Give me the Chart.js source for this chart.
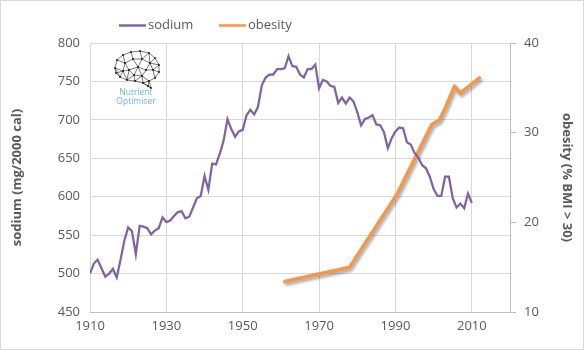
<!DOCTYPE html>
<html>
<head>
<meta charset="utf-8">
<title>sodium and obesity</title>
<script src="https://cdn.jsdelivr.net/npm/chart.js@4.4.1/dist/chart.umd.min.js"></script>
<style>
  html, body { margin: 0; padding: 0; background: #fff; }
  canvas { display: block; }
</style>
</head>
<body>
<canvas id="chart" width="584" height="350"></canvas>
<script>
// sodium intake per year, mg per 2000 cal
const sodiumYears = [
  1910, 1911, 1912, 1913, 1914, 1915, 1916, 1917, 1918, 1919,
  1920, 1921, 1922, 1923, 1924, 1925, 1926, 1927, 1928, 1929,
  1930, 1931, 1932, 1933, 1934, 1935, 1936, 1937, 1938, 1939,
  1940, 1941, 1942, 1943, 1944, 1945, 1946, 1947, 1948, 1949,
  1950, 1951, 1952, 1953, 1954, 1955, 1956, 1957, 1958, 1959,
  1960, 1961, 1962, 1963, 1964, 1965, 1966, 1967, 1968, 1969,
  1970, 1971, 1972, 1973, 1974, 1975, 1976, 1977, 1978, 1979,
  1980, 1981, 1982, 1983, 1984, 1985, 1986, 1987, 1988, 1989,
  1990, 1991, 1992, 1993, 1994, 1995, 1996, 1997, 1998, 1999,
  2000, 2001, 2002, 2003, 2004, 2005, 2006, 2007, 2008, 2009,
  2010
];
const sodium = [
  500, 513, 518, 507, 496, 500, 506, 495, 518, 543,
  560, 555, 525, 562, 561, 559, 551, 556, 559, 573,
  567, 569, 575, 580, 581, 572, 574, 586, 598, 601,
  627, 609, 643, 642, 656, 673, 701, 688, 678, 685,
  687, 706, 713, 707, 717, 745, 755, 759, 759, 766,
  766, 767, 783, 770, 769, 759, 755, 766, 766, 772,
  741, 752, 750, 744, 743, 722, 729, 721, 729, 724,
  710, 693, 701, 703, 706, 694, 693, 684, 663, 676,
  685, 690, 689, 671, 668, 657, 651, 641, 637, 626,
  610, 601, 601, 626, 626, 598, 586, 591, 585, 604,
  592
];

// obesity survey points, % of adults with BMI > 30
const obesityYears = [1961, 1978, 1990.5, 1999.5, 2001.5, 2003, 2005.5, 2007, 2012];
const obesity = [13.4, 15.0, 23.2, 30.9, 31.4, 32.7, 35.2, 34.4, 36.1];

const xTicks = [1910, 1930, 1950, 1970, 1990, 2010];
const sodiumTicks = [450, 500, 550, 600, 650, 700, 750, 800];
const obesityTicks = [10, 20, 30, 40];

const FONT = '"Open Sans", "Noto Sans", sans-serif';
const TEXT = '#595959';
const GRID = '#d9d9d9';
const AXIS = '#bfbfbf';

const pts = (xs, ys) => xs.map((x, i) => ({ x, y: ys[i] }));

// chart frame + legend at top-left
const framePlugin = {
  id: 'frame',
  beforeDraw(chart) {
    const ctx = chart.ctx;
    ctx.save();
    ctx.fillStyle = '#fff';
    ctx.fillRect(0, 0, chart.width, chart.height);
    ctx.strokeStyle = GRID;
    ctx.lineWidth = 1;
    ctx.strokeRect(0.5, 0.5, chart.width - 1, chart.height - 1);
    ctx.restore();
  },
  afterDraw(chart) {
    const ctx = chart.ctx;
    const slots = [[119, 146, 148], [219, 246, 248]];
    ctx.save();
    ctx.font = '13px ' + FONT;
    ctx.textBaseline = 'middle';
    chart.data.datasets.forEach((ds, i) => {
      const [x0, x1, tx] = slots[i];
      ctx.strokeStyle = ds.borderColor;
      ctx.lineWidth = 2.5;
      ctx.beginPath();
      ctx.moveTo(x0, 25.5);
      ctx.lineTo(x1, 25.5);
      ctx.stroke();
      ctx.fillStyle = TEXT;
      ctx.fillText(ds.label, tx, 25);
    });
    ctx.restore();
  }
};

// small brain-mesh badge in the top-left of the plot
const badgePlugin = {
  id: 'badge',
  beforeDatasetsDraw(chart) {
    const ctx = chart.ctx;
    const ox = 113, oy = 50;
    const nodes = [
      [2, 18], [4, 10], [10, 5], [18, 2], [27, 1], [36, 3], [42, 8], [46, 15],
      [46, 22], [42, 28], [36, 31], [30, 33], [22, 31], [14, 30], [7, 27], [3, 23],
      [35, 36], [38, 38], [12, 13], [20, 9], [29, 9], [37, 13], [16, 20], [25, 17],
      [33, 20], [40, 20], [21, 25], [29, 26], [10, 21]
    ];
    ctx.save();
    ctx.strokeStyle = '#222';
    ctx.lineWidth = 0.6;
    ctx.beginPath();
    for (let i = 0; i < nodes.length; i++) {
      for (let j = i + 1; j < nodes.length; j++) {
        const dx = nodes[i][0] - nodes[j][0], dy = nodes[i][1] - nodes[j][1];
        if (Math.hypot(dx, dy) < 10.5) {
          ctx.moveTo(ox + nodes[i][0], oy + nodes[i][1]);
          ctx.lineTo(ox + nodes[j][0], oy + nodes[j][1]);
        }
      }
    }
    ctx.stroke();
    ctx.fillStyle = '#111';
    nodes.forEach(n => {
      ctx.beginPath();
      ctx.arc(ox + n[0], oy + n[1], 0.9, 0, Math.PI * 2);
      ctx.fill();
    });
    ctx.fillStyle = '#6cb4ee';
    ctx.font = '8.5px ' + FONT;
    ctx.textAlign = 'center';
    ctx.textBaseline = 'middle';
    ctx.fillText('Nutrient', 136, 92.5);
    ctx.fillText('Optimiser', 136, 101.5);
    ctx.restore();
  }
};

// soft drop shadow under the obesity line
const shadowPlugin = {
  id: 'lineShadow',
  beforeDatasetDraw(chart, args) {
    if (args.index !== 1) return;
    const ctx = chart.ctx;
    ctx.save();
    ctx.shadowColor = 'rgba(0,0,0,0.35)';
    ctx.shadowBlur = 3;
    ctx.shadowOffsetX = 1.5;
    ctx.shadowOffsetY = 2.5;
  },
  afterDatasetDraw(chart, args) {
    if (args.index !== 1) return;
    chart.ctx.restore();
  }
};

new Chart(document.getElementById('chart'), {
  type: 'line',
  data: {
    datasets: [
      {
        label: 'sodium',
        data: pts(sodiumYears, sodium),
        yAxisID: 'y',
        borderColor: '#8064a2',
        borderWidth: 2.25,
        pointRadius: 0,
        tension: 0
      },
      {
        label: 'obesity',
        data: pts(obesityYears, obesity),
        yAxisID: 'y1',
        borderColor: '#f79646',
        borderWidth: 3.5,
        pointRadius: 0,
        tension: 0,
        borderCapStyle: 'round',
        borderJoinStyle: 'round'
      }
    ]
  },
  options: {
    responsive: false,
    animation: false,
    devicePixelRatio: 1,
    layout: { padding: { top: 43, left: 0, right: 0, bottom: 0 } },
    plugins: {
      legend: { display: false },
      tooltip: { enabled: false }
    },
    scales: {
      x: {
        type: 'linear',
        min: 1910,
        max: 2020,
        afterBuildTicks: s => { s.ticks = xTicks.concat([2020]).map(v => ({ value: v })); },
        afterFit: s => { s.height = 38; },
        ticks: {
          callback: v => (xTicks.includes(v) ? String(v) : ''),
          color: TEXT,
          font: { family: FONT, size: 13 },
          padding: 6,
          maxRotation: 0,
          autoSkip: false
        },
        grid: { color: GRID, drawTicks: false },
        border: { display: true, color: AXIS }
      },
      y: {
        position: 'left',
        min: 450,
        max: 800,
        afterBuildTicks: s => { s.ticks = sodiumTicks.map(v => ({ value: v })); },
        afterFit: s => { s.width = 90; },
        ticks: {
          color: TEXT,
          font: { family: FONT, size: 13 },
          padding: 10
        },
        grid: { color: GRID, drawTicks: false },
        border: { display: false },
        title: {
          display: true,
          text: 'sodium (mg/2000 cal)',
          color: TEXT,
          font: { family: FONT, size: 13, weight: 'bold' },
          padding: { top: 9, bottom: 0 }
        }
      },
      y1: {
        position: 'right',
        min: 10,
        max: 40,
        afterBuildTicks: s => { s.ticks = obesityTicks.map(v => ({ value: v })); },
        afterFit: s => { s.width = 74; },
        ticks: {
          color: TEXT,
          font: { family: FONT, size: 13 },
          padding: 8
        },
        grid: { drawOnChartArea: false, color: AXIS, tickLength: 6 },
        border: { display: true, color: AXIS },
        title: {
          display: true,
          text: 'obesity (% BMI > 30)',
          color: TEXT,
          font: { family: FONT, size: 13, weight: 'bold' },
          padding: { top: 9, bottom: 0 }
        }
      }
    }
  },
  plugins: [framePlugin, badgePlugin, shadowPlugin]
});
</script>
</body>
</html>
